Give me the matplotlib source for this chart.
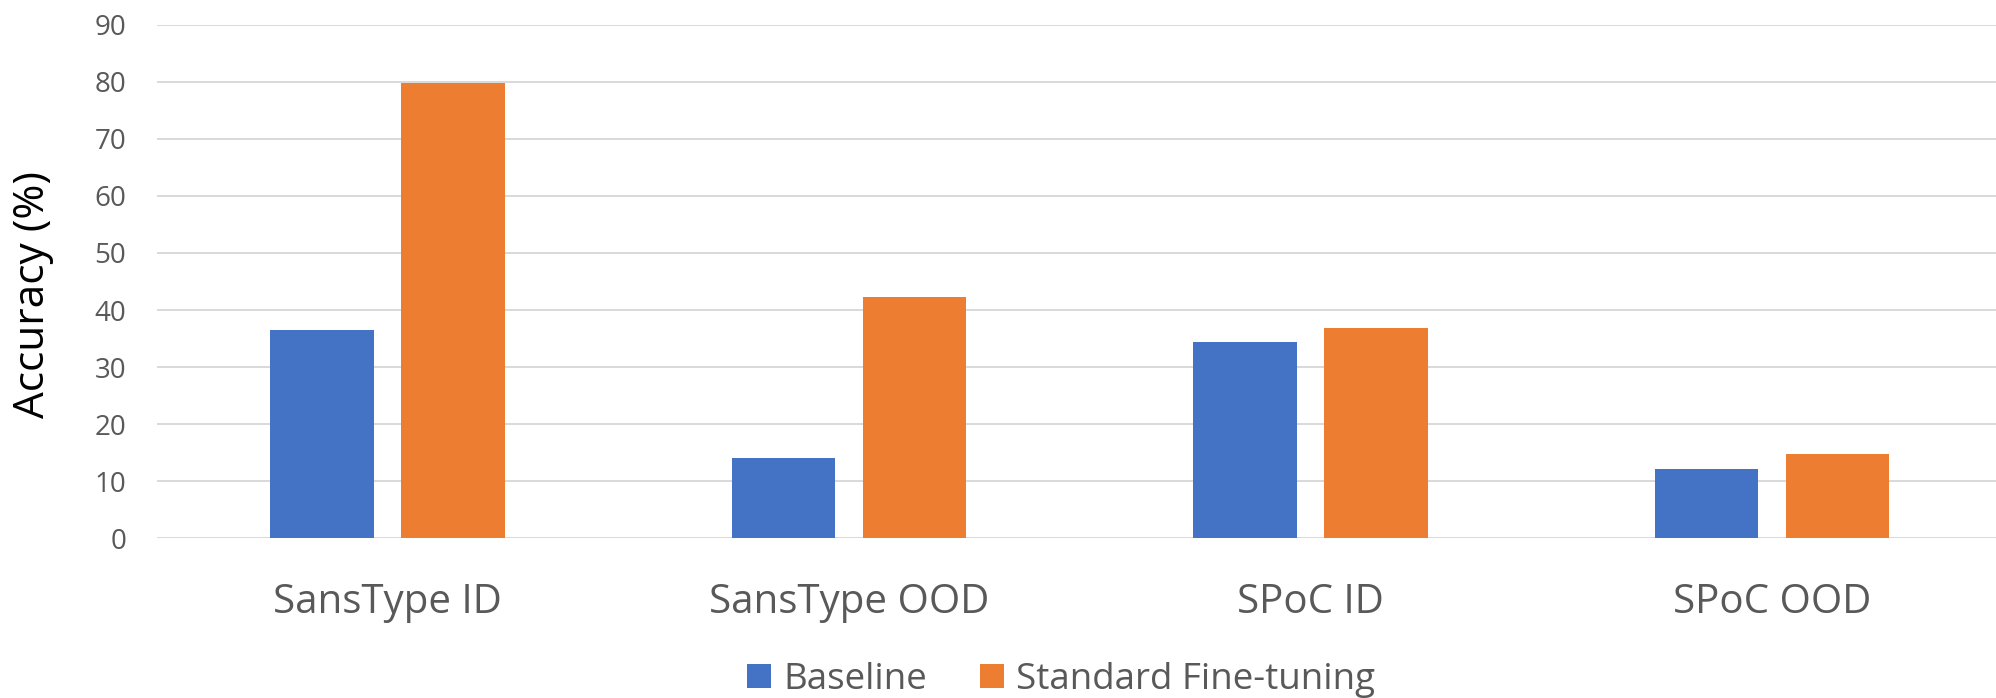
import matplotlib.pyplot as plt
import numpy as np

plt.rcParams["font.family"] = ["Open Sans", "DejaVu Sans"]

categories = ["SansType ID", "SansType OOD", "SPoC ID", "SPoC OOD"]
baseline = [36.5, 14.0, 34.4, 12.1]
fine_tuning = [79.8, 42.3, 36.9, 14.7]
y_ticks = [0, 10, 20, 30, 40, 50, 60, 70, 80, 90]

BLUE = "#4472C4"
ORANGE = "#ED7D31"
TEXT_GRAY = "#595959"
GRID_GRAY = "#D9D9D9"

W, H = 1996, 698
fig = plt.figure(figsize=(W / 100, H / 100), dpi=100)
ax = fig.add_axes([156.7 / W, 1 - 538.3 / H, 1 - 156.7 / W, (538.3 - 24.7) / H])

x = np.arange(len(categories))
bar_w = 0.2247
offset = 0.1419
ax.bar(x - offset, baseline, bar_w, color=BLUE, label="Baseline", zorder=3)
ax.bar(x + offset, fine_tuning, bar_w, color=ORANGE, label="Standard Fine-tuning", zorder=3)

ax.set_xlim(-0.5, 3.4855)
ax.set_ylim(0, 90)
ax.set_yticks(y_ticks)
ax.set_xticks(x)
ax.set_xticklabels(categories)

ax.yaxis.grid(True, color=GRID_GRAY, linewidth=1.4, zorder=0)
ax.set_axisbelow(True)
for side in ax.spines.values():
    side.set_visible(False)

ax.tick_params(axis="y", length=0, pad=22, labelsize=20, labelcolor=TEXT_GRAY)
ax.tick_params(axis="x", length=0, pad=32, labelsize=29, labelcolor=TEXT_GRAY)

fig.text(33 / W, 1 - 294.5 / H, "Accuracy (%)", rotation=90, ha="center",
         va="center", fontsize=30.5, color="black")

handles, labels = ax.get_legend_handles_labels()
fig.legend(handles, labels, loc="center", bbox_to_anchor=(1061 / W, 1 - 680 / H),
           ncol=2, frameon=False, fontsize=26.5, labelcolor=TEXT_GRAY,
           handlelength=0.65, handleheight=0.65, handletextpad=0.32,
           columnspacing=1.45)

fig.savefig("out.png", dpi=100)
